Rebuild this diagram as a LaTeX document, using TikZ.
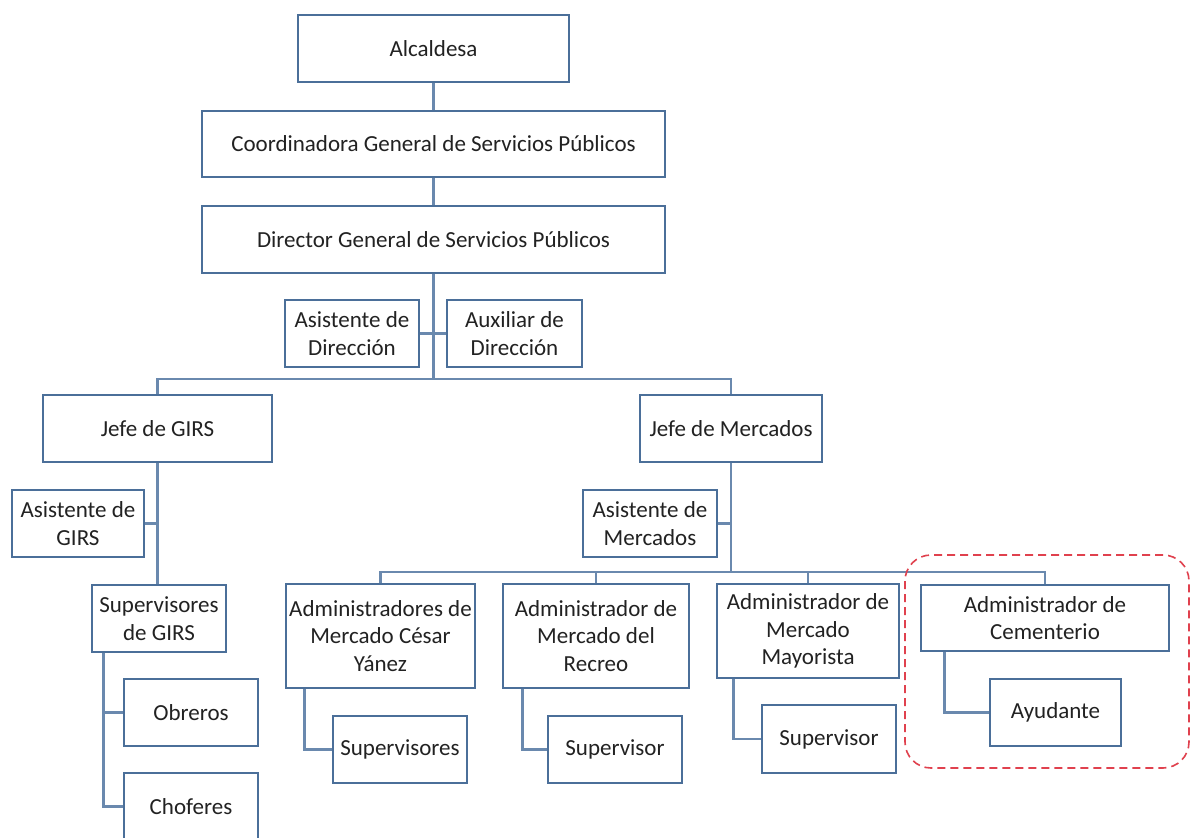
\documentclass[tikz,border=0pt]{standalone}
\usepackage{fontspec}
\setmainfont{Carlito}
\definecolor{boxline}{HTML}{4B6F99}
\definecolor{linkline}{HTML}{6A89AE}
\definecolor{txt}{HTML}{222222}
\definecolor{mark}{HTML}{E0414E}
\begin{document}
\begin{tikzpicture}[x=1pt,y=-1pt,
  unit/.style={draw=boxline,line width=1.3pt,fill=white,rectangle,inner sep=0pt,
    align=center,text=txt,font=\fontsize{23}{27.5}\selectfont},
  link/.style={draw=linkline,line width=2.4pt}]
\clip (0,0) rectangle (1192,838);
\fill[white] (0,0) rectangle (1192,838);

% connectors first, boxes on top
\coordinate (top) at (433.5,379);
\coordinate (merc) at (731,572);

% boxes
\node[unit,minimum width=271pt,minimum height=67pt] (alc) at (433.5,48.5) {Alcaldesa};
\node[unit,minimum width=463pt,minimum height=66pt] (coord) at (433.5,144) {Coordinadora General de Servicios Públicos};
\node[unit,minimum width=463pt,minimum height=67pt] (dir) at (433.5,239.5) {Director General de Servicios Públicos};
\node[unit,minimum width=134pt,minimum height=67pt] (asdir) at (352,333.5) {Asistente de\\Dirección};
\node[unit,minimum width=135pt,minimum height=67pt] (auxdir) at (514.5,333.5) {Auxiliar de\\Dirección};
\node[unit,minimum width=229pt,minimum height=67pt] (jgirs) at (157.5,428.5) {Jefe de GIRS};
\node[unit,minimum width=182pt,minimum height=67pt] (jmerc) at (731,428.5) {Jefe de Mercados};
\node[unit,minimum width=132pt,minimum height=67pt] (asgirs) at (78,523.5) {Asistente de\\GIRS};
\node[unit,minimum width=134pt,minimum height=67pt] (supgirs) at (159,618.5) {Supervisores\\de GIRS};
\node[unit,minimum width=134pt,minimum height=67pt] (obreros) at (191,712.5) {Obreros};
\node[unit,minimum width=134pt,minimum height=67pt] (choferes) at (191,806.5) {Choferes};
\node[unit,minimum width=134pt,minimum height=67pt] (asmerc) at (650,523.5) {Asistente de\\Mercados};
\node[unit,minimum width=189pt,minimum height=104pt] (cesar) at (380.5,636) {Administradores de\\Mercado César\\Yánez};
\node[unit,minimum width=186pt,minimum height=104pt] (recreo) at (596,636) {Administrador de\\Mercado del\\Recreo};
\node[unit,minimum width=182pt,minimum height=94pt] (mayor) at (808,631) {Administrador de\\Mercado\\Mayorista};
\node[unit,minimum width=248pt,minimum height=66pt] (cement) at (1045,618) {Administrador de\\Cementerio};
\node[unit,minimum width=134pt,minimum height=67pt] (supcesar) at (400,749.5) {Supervisores};
\node[unit,minimum width=134pt,minimum height=67pt] (suprecreo) at (615,749.5) {Supervisor};
\node[unit,minimum width=134pt,minimum height=68pt] (supmayor) at (829,739) {Supervisor};
\node[unit,minimum width=131pt,minimum height=67pt] (ayud) at (1055.5,712.5) {Ayudante};

% connectors
\draw[link] (alc.south) -- (coord.north);
\draw[link] (coord.south) -- (dir.north);
\draw[link] (dir.south) -- (top);
\draw[link] (asdir.east) -- (auxdir.west);
\draw[link] (jgirs.north) |- (top) -| (jmerc.north);
\draw[link] (jgirs.south) -- (jgirs.south |- supgirs.north);
\draw[link] (asgirs.east) -- (asgirs.east -| jgirs.south);
\draw[link] ([xshift=12pt]supgirs.south west) |- (obreros.west);
\draw[link] ([xshift=12pt]supgirs.south west) |- (choferes.west);
\draw[link] (jmerc.south) -- (merc);
\draw[link] (asmerc.east) -- (asmerc.east -| jmerc.south);
\draw[link] (cesar.north) |- (merc) -| (cement.north);
\draw[link] (recreo.north) -- (recreo.north |- merc);
\draw[link] (mayor.north) -- (mayor.north |- merc);
\draw[link] ([xshift=19pt]cesar.south west) |- (supcesar.west);
\draw[link] ([xshift=20pt]recreo.south west) |- (suprecreo.west);
\draw[link] ([xshift=17pt]mayor.south west) |- (supmayor.west);
\draw[link] ([xshift=24pt]cement.south west) |- (ayud.west);

% highlighted group
\node[draw=mark,line width=1.6pt,dash pattern=on 8pt off 5pt,rounded corners=26pt,
  minimum width=284pt,minimum height=213pt,inner sep=0pt] (grp) at (1047,661.5) {};
\end{tikzpicture}
\end{document}
